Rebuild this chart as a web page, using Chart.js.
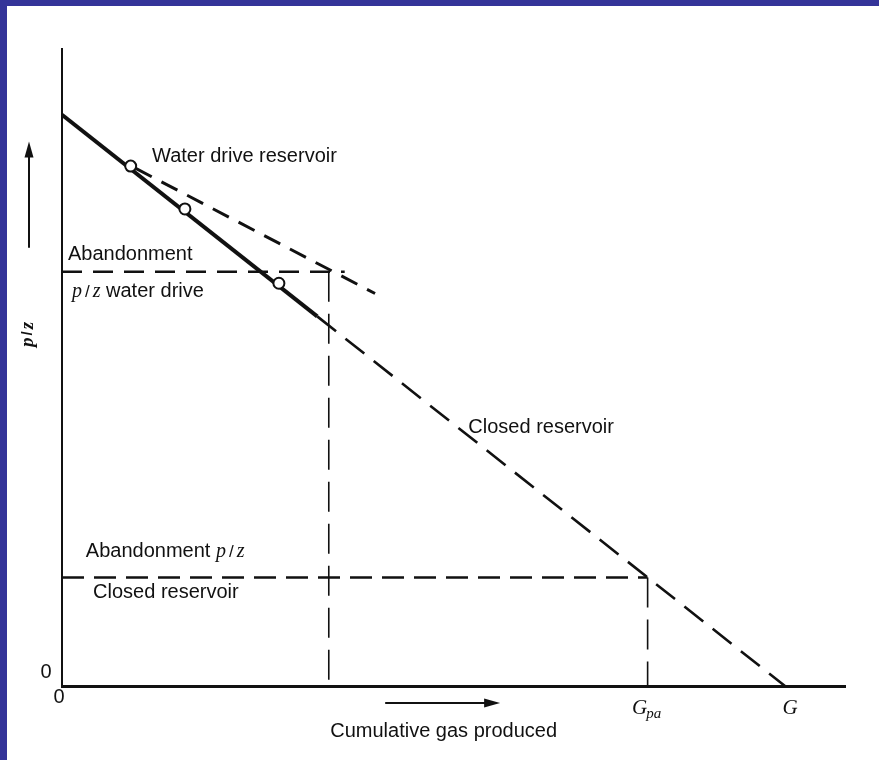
<!DOCTYPE html>
<html>
<head>
<meta charset="utf-8">
<script src="https://cdn.jsdelivr.net/npm/chart.js@4.4.1/dist/chart.umd.min.js"></script>
<style>
  html, body { margin: 0; padding: 0; }
  body { width: 879px; height: 760px; background: #343499; overflow: hidden; position: relative; }
  #wrap { position: absolute; left: 7px; top: 6px; width: 872px; height: 754px; background: #ffffff; }
</style>
</head>
<body>
<div id="wrap"><canvas id="c" width="872" height="754"></canvas></div>
<script>
// ---- data (x: cumulative gas produced, G = 100; y: p/z, initial = 100)
const measuredX = [9.5, 17, 30];
const measuredY = [91, 83.5, 70.5];
const solidX = [0, 35.3];
const solidY = [100, 64.7];
const closedX = [35.3, 100];
const closedY = [64.7, 0];
const waterX = [10.2, 43.3];
const waterY = [90.6, 68.7];
const abandonWaterPZ = 72.5;
const abandonWaterGp = 36.9;
const abandonClosedPZ = 19;
const Gpa = 81;
const G = 100;
const xTickValues = [0, Gpa, G];
const xTickLabels = ['0', 'G', 'G'];
const xTickSubs = ['', 'pa', ''];
const yTickValues = [0];
const yTickLabels = ['0'];

const pts = (xs, ys) => xs.map((x, i) => ({ x: x, y: ys[i] }));

const SANS = '"Liberation Sans", Arial, sans-serif';
const SERIF = '"Liberation Serif", "Times New Roman", serif';

// parts: [text, font, extraGapAfter]
function rich(ctx, x, y, parts) {
  let cx = x;
  for (const [t, f, g] of parts) {
    ctx.font = f;
    ctx.fillText(t, cx, y);
    cx += ctx.measureText(t).width + (g || 0);
  }
}

const notes = {
  id: 'notes',
  afterDraw(chart) {
    const ctx = chart.ctx;
    const xs = chart.scales.x, ys = chart.scales.y;
    const X = v => xs.getPixelForValue(v), Y = v => ys.getPixelForValue(v);
    const area = chart.chartArea;
    ctx.save();
    ctx.fillStyle = '#111';
    ctx.strokeStyle = '#111';
    ctx.textBaseline = 'alphabetic';
    ctx.textAlign = 'left';
    const f = '20px ' + SANS;
    const fi = 'italic 20px ' + SERIF;
    const fs = '17px ' + SANS;
    const pz = [['p', fi, 3], ['/', fs, 3], ['z', fi]];
    rich(ctx, X(12.45), Y(91.8), [['Water drive reservoir', f]]);
    rich(ctx, X(0.83), Y(74.6), [['Abandonment', f]]);
    rich(ctx, X(1.38), Y(68.1), pz.concat([[' water drive', f]]));
    rich(ctx, X(56.2), Y(44.3), [['Closed reservoir', f]]);
    rich(ctx, X(3.3), Y(22.6), [['Abandonment ', f]].concat(pz));
    rich(ctx, X(4.3), Y(15.4), [['Closed reservoir', f]]);
    rich(ctx, X(37.1), area.bottom + 51, [['Cumulative gas produced', f]]);

    // tick labels
    ctx.textAlign = 'center';
    ctx.textBaseline = 'middle';
    yTickValues.forEach((v, i) => {
      ctx.font = '20px ' + SANS;
      ctx.fillText(yTickLabels[i], area.left - 16, Y(v) - 14);
    });
    xTickValues.forEach((v, i) => {
      if (i === 0) {
        ctx.font = '20px ' + SANS;
        ctx.fillText(xTickLabels[i], X(v) - 3, area.bottom + 11);
      } else {
        ctx.font = 'italic 21px ' + SERIF;
        const off = xTickSubs[i] ? -8 : 5;
        ctx.textAlign = 'center';
        ctx.fillText(xTickLabels[i], X(v) + off, area.bottom + 22);
        if (xTickSubs[i]) {
          const w = ctx.measureText(xTickLabels[i]).width;
          ctx.font = 'italic 15px ' + SERIF;
          ctx.textAlign = 'left';
          ctx.fillText(xTickSubs[i], X(v) + off + w / 2 - 1, area.bottom + 28);
        }
      }
    });

    // rotated y label
    ctx.save();
    ctx.translate(area.left - 34, Y(61.8));
    ctx.rotate(-Math.PI / 2);
    ctx.textAlign = 'left';
    rich(ctx, -14, 0, [['p', 'italic bold 19px ' + SERIF, 2], ['/', 'bold 15px ' + SANS, 2], ['z', 'italic bold 19px ' + SERIF]]);
    ctx.restore();

    // up arrow
    const ax = area.left - 33;
    ctx.lineWidth = 2;
    ctx.beginPath();
    ctx.moveTo(ax, Y(76.7));
    ctx.lineTo(ax, Y(95.3) + 12);
    ctx.stroke();
    ctx.beginPath();
    ctx.moveTo(ax, Y(95.3));
    ctx.lineTo(ax - 4.5, Y(95.3) + 16);
    ctx.lineTo(ax + 4.5, Y(95.3) + 16);
    ctx.closePath();
    ctx.fill();
    // right arrow
    const ay = area.bottom + 17;
    ctx.beginPath();
    ctx.moveTo(X(44.7), ay);
    ctx.lineTo(X(60.6) - 12, ay);
    ctx.stroke();
    ctx.beginPath();
    ctx.moveTo(X(60.6), ay);
    ctx.lineTo(X(60.6) - 16, ay - 4.5);
    ctx.lineTo(X(60.6) - 16, ay + 4.5);
    ctx.closePath();
    ctx.fill();
    ctx.restore();
  }
};

const base = { pointRadius: 0, borderColor: '#111', fill: false, showLine: true, tension: 0 };

new Chart(document.getElementById('c'), {
  type: 'scatter',
  data: {
    datasets: [
      { data: pts(measuredX, measuredY), showLine: false, pointRadius: 5.5, pointBorderWidth: 2,
        pointBackgroundColor: '#fff', pointBorderColor: '#111' },
      Object.assign({}, base, { data: pts(solidX, solidY), borderWidth: 4 }),
      Object.assign({}, base, { data: pts(closedX, closedY), borderWidth: 2.6, borderDash: [24, 12] }),
      Object.assign({}, base, { data: pts(waterX, waterY), borderWidth: 3, borderDash: [18, 11] }),
      Object.assign({}, base, { data: pts([0, 39.1], [abandonWaterPZ, abandonWaterPZ]), borderWidth: 2.4, borderDash: [20, 11] }),
      Object.assign({}, base, { data: pts([abandonWaterGp, abandonWaterGp], [abandonWaterPZ, 0]), borderWidth: 1.6, borderDash: [30, 12] }),
      Object.assign({}, base, { data: pts([0, Gpa], [abandonClosedPZ, abandonClosedPZ]), borderWidth: 2.4, borderDash: [22, 10] }),
      Object.assign({}, base, { data: pts([Gpa, Gpa], [abandonClosedPZ, 0]), borderWidth: 1.6, borderDash: [30, 12] })
    ]
  },
  options: {
    responsive: false,
    animation: false,
    devicePixelRatio: 1,
    layout: { padding: { left: 55, top: 43, right: 34, bottom: 74 } },
    plugins: { legend: { display: false }, tooltip: { enabled: false } },
    scales: {
      x: { type: 'linear', min: 0, max: 108.3,
           grid: { display: false, drawTicks: false },
           ticks: { display: false },
           border: { display: true, color: '#111', width: 3 } },
      y: { type: 'linear', min: 0, max: 111.5,
           grid: { display: false, drawTicks: false },
           ticks: { display: false },
           border: { display: true, color: '#111', width: 2 } }
    }
  },
  plugins: [notes]
});
</script>
</body>
</html>
